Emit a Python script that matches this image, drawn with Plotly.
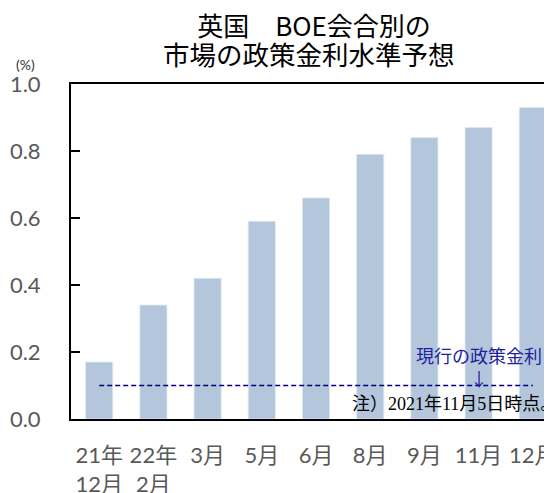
import plotly.graph_objects as go

# BOE会合別の市場予想（政策金利, %）
meetings = ['21年<br>12月', '22年<br>2月', '3月', '5月', '6月', '8月', '9月', '11月', '12月']
expected_rate = [0.17, 0.34, 0.42, 0.59, 0.66, 0.79, 0.84, 0.87, 0.93]
current_rate = 0.1
y_ticks = [0.0, 0.2, 0.4, 0.6, 0.8, 1.0]

tick_font = dict(family='Lato, Noto Sans CJK JP', size=22, color='#595959')
cjk = 'Noto Sans CJK JP'

fig = go.Figure()

fig.add_trace(go.Bar(
    x=meetings, y=expected_rate,
    marker=dict(color='#b3c6dc', line=dict(color='#dfe7f1', width=0.8)),
    showlegend=False, hoverinfo='skip'
))

# 現行の政策金利（破線）
fig.add_trace(go.Scatter(
    x=[meetings[0], meetings[-1]], y=[current_rate, current_rate],
    mode='lines', line=dict(color='#000080', width=1.5, dash='5px,3px'),
    showlegend=False, hoverinfo='skip'
))

fig.update_layout(
    width=552, height=493,
    margin=dict(l=63, r=8, t=76, b=82),
    plot_bgcolor='white', paper_bgcolor='white',
    bargap=0.5,
    title=dict(text='英国　BOE会合別の', font=dict(family=cjk, size=26, color='black'),
               x=306 / 552, y=1 - 19 / 493, xanchor='center', yanchor='middle',
               xref='container', yref='container'),
    xaxis=dict(range=[-0.52, 8.354], showline=True, linecolor='black', linewidth=2,
               mirror=True, ticks='', tickfont=tick_font, ticklabelstandoff=16,
               showgrid=False, automargin=False),
    yaxis=dict(range=[0, 1.0], tickvals=y_ticks, tickformat='.1f', showline=True,
               linecolor='black', linewidth=2, mirror=False, ticks='inside', ticklen=9,
               tickcolor='black', tickwidth=1.5, tickfont=tick_font,
               ticklabelstandoff=24, showgrid=False, zeroline=False, automargin=False),
)

fig.add_annotation(text='市場の政策金利水準予想', xref='paper', yref='paper',
                   x=0.495, y=(419 - 54) / 335, xanchor='center', yanchor='middle',
                   showarrow=False, font=dict(family=cjk, size=26.5, color='black'))
fig.add_annotation(text='(%)', xref='paper', yref='paper', x=-0.0936, y=(419 - 64) / 335,
                   xanchor='center', yanchor='middle', showarrow=False,
                   font=dict(family='Lato, ' + cjk, size=14, color='#333333'))
fig.add_annotation(text='現行の政策金利<br>↓', x=meetings[7], y=current_rate + 0.058,
                   xanchor='center', yanchor='middle', showarrow=False,
                   font=dict(family=cjk, size=18, color='#1f1fa0'))
fig.add_annotation(text='注）2021年11月5日時点。', xref='paper', x=0.58, y=0.044,
                   xanchor='left', yanchor='middle', showarrow=False,
                   font=dict(family='Liberation Serif, ' + cjk, size=18, color='black'))

fig.write_html('out.html')
